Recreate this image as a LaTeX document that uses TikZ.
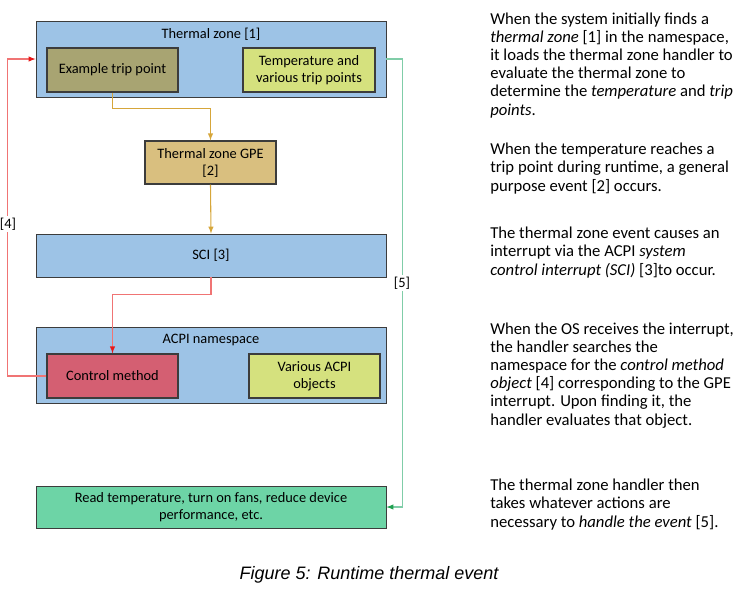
\documentclass[tikz,border=0pt]{standalone}
\usepackage{fontspec}
\usepackage{xcolor}
\usepackage{tikz}
\setmainfont{Carlito}
\newfontfamily\capfont{Liberation Sans}

\definecolor{zoneblue}{HTML}{9DC3E6}
\definecolor{tripolive}{HTML}{A8A472}
\definecolor{tempgreen}{HTML}{D5E17E}
\definecolor{gpetan}{HTML}{D9BF7F}
\definecolor{ctrlred}{HTML}{D45F72}
\definecolor{actgreen}{HTML}{6DD4A6}
\definecolor{boxline}{HTML}{3C3C3C}
\definecolor{gpeline}{HTML}{D6A63A}
\definecolor{methline}{HTML}{F07474}
\definecolor{methtip}{HTML}{E81818}
\definecolor{handline}{HTML}{80CDA8}
\definecolor{handtip}{HTML}{20A050}

\begin{document}
\begin{tikzpicture}[x=0.75pt,y=-0.75pt,
    every node/.style={font=\fontsize{10.8}{12.75}\selectfont, inner sep=0pt},
    widebox/.style={draw=boxline, line width=0.6pt, minimum width=262.5pt},
    smallbox/.style={draw=boxline, line width=0.9pt, minimum width=98.25pt, minimum height=33pt, align=center},
    note/.style={anchor=base west, align=left, font=\fontsize{12.5}{13.65}\selectfont}]
             \useasboundingbox (0,0) rectangle (746,593);

             % thermal zone
             \node[widebox, fill=zoneblue, minimum height=57pt] (tz) at (211,59) {};
             \node (tztitle) at (211,34) {Thermal zone [1]};
             \node[smallbox, fill=tripolive] (trip) at (112.5,70) {Example trip point};
             \node[smallbox, fill=tempgreen, minimum width=99pt] (temp) at (309,70) {Temperature and\\various trip points};

             \node[smallbox, fill=gpetan, minimum height=32.25pt] (gpe) at (210.5,162.5) {Thermal zone GPE\\{[2]}};
             \node[widebox, fill=zoneblue, minimum height=32.25pt] (sci) at (211,255.5) {SCI [3]};

             % namespace
             \node[widebox, fill=zoneblue, minimum height=57pt] (ns) at (211,365) {};
             \node (nstitle) at (211,340) {ACPI namespace};
             \node[smallbox, fill=ctrlred] (ctrl) at (112.5,376) {Control method};
             \node[smallbox, fill=tempgreen] (obj) at (314.5,376) {Various ACPI\\objects};

             \node[widebox, fill=actgreen, minimum height=31.5pt, align=center] (act) at (211,507)
                  {Read temperature, turn on fans, reduce device\\performance, etc.};

             % connectors
             \draw[gpeline, line width=0.8pt, -latex] (trip.south) -- ++(0,16) -| (gpe.north);
             \draw[gpeline, line width=0.8pt, -latex] (gpe.south) -- (sci.north);
             \draw[methline, line width=0.8pt, -{latex[methtip]}] (sci.south) -- ++(0,17) -| (ctrl.north);
             \draw[methline, line width=0.8pt, -{latex[methtip]}] (ctrl.west) -- ++(-39,0) |- (tz.west);
             \draw[handline, line width=0.8pt, -{latex[handtip]}] (tz.east) -- ++(16,0) |- (act.east);
             \node[fill=white, inner sep=1pt] (lfour) at (8,224) {[4]};
             \node[fill=white, inner sep=1pt] (lfive) at (402,283) {[5]};

             % notes (anchored at the last line)
             \node[note] (n1) at (490,115) {When the system initially finds a\\
                  \textit{thermal zone} [1] in the namespace,\\
                  it loads the thermal zone handler to\\
                  evaluate the thermal zone to\\
                  determine the \textit{temperature} and \textit{trip}\\
                  \textit{points}.};
             \node[note] (n2) at (490,191) {When the temperature reaches a\\
                  trip point during runtime, a general\\
                  purpose event [2] occurs.};
             \node[note] (n3) at (490,275) {The thermal zone event causes an\\
                  interrupt via the ACPI \textit{system}\\
                  \textit{control interrupt (SCI)} [3]to occur.};
             \node[note] (n4) at (490,425) {When the OS receives the interrupt,\\
                  the handler searches the\\
                  namespace for the \textit{control method}\\
                  \textit{object} [4] corresponding to the GPE\\
                  interrupt. Upon finding it, the\\
                  handler evaluates that object.};
             \node[note] (n5) at (490,527) {The thermal zone handler then\\
                  takes whatever actions are\\
                  necessary to \textit{handle the event} [5].};

             \node[font=\capfont\itshape\fontsize{13.5}{15}\selectfont] (cap) at (369,575) {Figure 5: Runtime thermal event};
             \end{tikzpicture}
\end{document}
